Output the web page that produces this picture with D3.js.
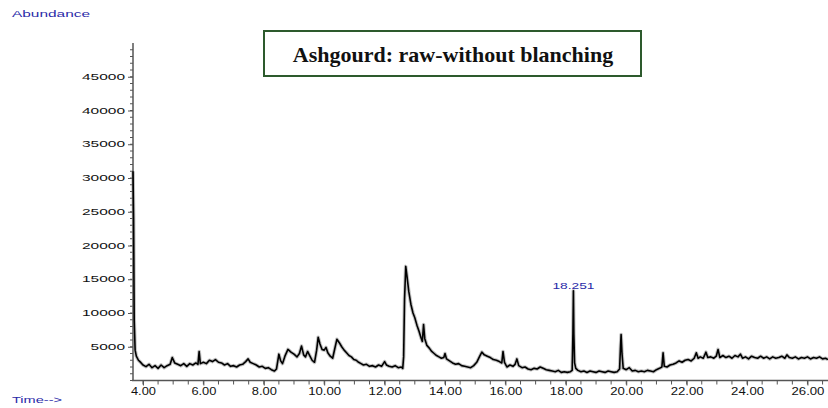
<!DOCTYPE html>
<html>
<head>
<meta charset="utf-8">
<script src="https://cdn.jsdelivr.net/npm/d3@7"></script>
<style>
  body { margin: 0; background: #fff; }
  svg { display: block; }
</style>
</head>
<body>
<svg id="svg" width="828" height="408"></svg>
<script>
// retention time (min) and abundance
var retentionTime = [
  3.67, 3.69, 3.71, 3.74, 3.78, 3.85, 3.9, 4.0, 4.1, 4.2, 4.3, 4.4, 4.5, 4.6, 4.7, 4.8, 4.9, 4.97,
  5.05, 5.15, 5.25, 5.35, 5.45, 5.55, 5.65, 5.75, 5.82, 5.86, 5.9, 6.0, 6.1, 6.2, 6.3, 6.4, 6.5,
  6.6, 6.7, 6.8, 6.9, 7.0, 7.1, 7.2, 7.3, 7.4, 7.48, 7.55, 7.65, 7.75, 7.85, 7.95, 8.05, 8.15,
  8.25, 8.35, 8.42, 8.5, 8.56, 8.62, 8.7, 8.8, 8.9, 9.0, 9.1, 9.18, 9.25, 9.32, 9.38, 9.45, 9.52,
  9.6, 9.68, 9.75, 9.8, 9.86, 9.93, 10.0, 10.06, 10.12, 10.2, 10.28, 10.35, 10.42, 10.5, 10.58,
  10.66, 10.74, 10.82, 10.9, 10.98, 11.06, 11.14, 11.22, 11.3, 11.4, 11.5, 11.6, 11.7, 11.8, 11.9,
  12.0, 12.06, 12.15, 12.25, 12.35, 12.45, 12.55, 12.6, 12.63, 12.66, 12.7, 12.74, 12.8, 12.87,
  12.94, 13.0, 13.07, 13.14, 13.2, 13.25, 13.29, 13.33, 13.4, 13.48, 13.56, 13.64, 13.72, 13.8,
  13.88, 13.96, 14.0, 14.05, 14.15, 14.25, 14.35, 14.45, 14.55, 14.65, 14.75, 14.85, 14.95, 15.05,
  15.15, 15.22, 15.3, 15.4, 15.5, 15.6, 15.7, 15.8, 15.88, 15.92, 15.97, 16.05, 16.15, 16.25,
  16.32, 16.38, 16.44, 16.55, 16.65, 16.75, 16.85, 16.95, 17.05, 17.15, 17.25, 17.35, 17.45,
  17.55, 17.65, 17.75, 17.85, 17.95, 18.05, 18.15, 18.21, 18.235, 18.251, 18.265, 18.29, 18.33,
  18.4, 18.5, 18.6, 18.7, 18.8, 18.9, 19.0, 19.1, 19.2, 19.3, 19.4, 19.5, 19.6, 19.7, 19.78,
  19.81, 19.83, 19.86, 19.9, 20.0, 20.1, 20.2, 20.3, 20.4, 20.5, 20.6, 20.7, 20.8, 20.9, 21.0,
  21.1, 21.18, 21.22, 21.26, 21.35, 21.45, 21.55, 21.65, 21.75, 21.85, 21.95, 22.05, 22.15, 22.25,
  22.32, 22.38, 22.45, 22.55, 22.64, 22.7, 22.8, 22.9, 22.98, 23.04, 23.1, 23.2, 23.3, 23.4, 23.5,
  23.6, 23.7, 23.78, 23.85, 23.95, 24.05, 24.15, 24.25, 24.35, 24.45, 24.55, 24.65, 24.75, 24.85,
  24.95, 25.05, 25.15, 25.25, 25.32, 25.4, 25.5, 25.6, 25.7, 25.8, 25.9, 26.0, 26.1, 26.2, 26.3,
  26.4, 26.5, 26.6, 26.68
];
var abundance = [
  31000, 24000, 9000, 4500, 3600, 3000, 2800, 2300, 2050, 2400, 1900, 2200, 1800, 2300, 1900, 2200, 2400, 3400,
  2600, 2400, 2200, 2500, 2100, 2500, 2300, 2600, 2400, 4300, 2500, 2700, 2500, 3000, 2800, 3100, 2700,
  2600, 2300, 2500, 2100, 2200, 2000, 2300, 2400, 2800, 3200, 2700, 2500, 2300, 2000, 2100, 1800, 1900,
  1600, 1400, 1700, 3900, 2900, 2500, 3600, 4600, 4200, 3900, 3500, 4000, 5100, 3800, 3500, 4300, 3700,
  3000, 2700, 4500, 6400, 5400, 4600, 4500, 4900, 4100, 3600, 3300, 4700, 6100, 5600, 5000,
  4500, 4100, 3700, 3500, 3100, 3000, 2700, 2500, 2300, 2400, 2100, 2200, 2000, 2300, 2100,
  2800, 2300, 2100, 2000, 2200, 1900, 2000, 1800, 3500, 12000, 16900, 15500, 13200, 11300,
  10000, 9300, 8200, 7300, 6400, 5800, 8300, 6200, 5200, 4800, 4300, 4000, 3700, 3500,
  3300, 3400, 4000, 3200, 2900, 2600, 2400, 2500, 2200, 2100, 2000, 1900, 2200, 2700,
  3600, 4200, 3800, 3600, 3400, 3100, 3000, 2800, 2600, 4300, 2700, 2000, 2300, 2100,
  2400, 3200, 2200, 1900, 2000, 1700, 1600, 1800, 1700, 2000, 1800, 1600, 1500,
  1400, 1300, 1500, 1200, 1300, 1200, 1300, 1500, 7000, 13300, 7000, 2600, 1800,
  1500, 1300, 1400, 1200, 1400, 1300, 1200, 1400, 1300, 1200, 1400, 1300, 1200, 1300, 1700,
  5000, 6800, 4000, 1800, 1600, 1900, 1400, 1500, 1300, 1400, 1300, 1500, 1400, 1300, 1600,
  1800, 2000, 4100, 2100, 2000, 2300, 2400, 2600, 2900, 2700, 3000, 3100, 2900, 3300,
  4100, 3300, 3500, 3300, 4200, 3400, 3500, 3300, 3600, 4600, 3400, 3700, 3400, 3600, 3300,
  3700, 3500, 3900, 3300, 3500, 3200, 3600, 3400, 3300, 3600, 3300, 3500, 3200, 3500,
  3300, 3400, 3600, 3300, 3800, 3400, 3300, 3500, 3200, 3400, 3300, 3500, 3200, 3400, 3300,
  3500, 3200, 3300, 3100
];
var xTicks = [4, 6, 8, 10, 12, 14, 16, 18, 20, 22, 24, 26];
var yTicks = [5000, 10000, 15000, 20000, 25000, 30000, 35000, 40000, 45000];
var peakLabel = {time: 18.251, value: 13300, text: "18.251"};
var chartTitle = "Ashgourd: raw-without blanching";

var trace = retentionTime.map(function(t, i) { return {t: t, v: abundance[i]}; });

var svg = d3.select("#svg");
var blue = "#2a2aa8";
var axisColor = "#555";

var xScale = d3.scaleLinear().domain([3.67, 26.68]).range([133, 828]);
var yScale = d3.scaleLinear().domain([0, 50000]).range([380.5, 43]);

//minor ticks
var minorY = d3.range(0, 49001, 1000);
var minorX = d3.range(4, 26.6, 0.5);

//yAxis
var yAxis = svg.append("g")
    .attr("transform", "translate(133,0)")
    .call(d3.axisLeft(yScale).tickValues(yTicks).tickSize(5).tickPadding(3)
        .tickFormat(function(d) { return String(d); }));
yAxis.select(".domain").remove();
yAxis.selectAll("line").attr("stroke", axisColor);
yAxis.selectAll("text")
    .attr("font-family", "Liberation Sans, Arial, sans-serif")
    .attr("font-size", 8.5)
    .attr("fill", "#111")
    .attr("textLength", function(d) { return String(d).length * 8.6; })
    .attr("lengthAdjust", "spacingAndGlyphs");
yAxis.append("g").selectAll("line").data(minorY).enter().append("line")
    .attr("x1", -3).attr("x2", 0)
    .attr("y1", function(d) { return yScale(d); })
    .attr("y2", function(d) { return yScale(d); })
    .attr("stroke", axisColor);
yAxis.append("line").attr("x1", 0).attr("x2", 0).attr("y1", 43).attr("y2", 381)
    .attr("stroke", axisColor).attr("stroke-width", 1.5);

//xAxis
var xAxis = svg.append("g")
    .attr("transform", "translate(0,380.5)")
    .call(d3.axisBottom(xScale).tickValues(xTicks).tickSize(5).tickPadding(2)
        .tickFormat(d3.format(".2f")));
xAxis.select(".domain").remove();
xAxis.selectAll("line").attr("stroke", axisColor);
xAxis.selectAll("text")
    .attr("font-family", "Liberation Sans, Arial, sans-serif")
    .attr("font-size", 10)
    .attr("fill", "#111")
    .attr("textLength", function(d) { return (d3.format(".2f")(d).length - 1) * 8 + 1; })
    .attr("lengthAdjust", "spacingAndGlyphs");
xAxis.append("g").selectAll("line").data(minorX).enter().append("line")
    .attr("x1", function(d) { return xScale(d); })
    .attr("x2", function(d) { return xScale(d); })
    .attr("y1", 0).attr("y2", 4)
    .attr("stroke", axisColor);
xAxis.append("line").attr("x1", 132).attr("x2", 828).attr("y1", 0).attr("y2", 0)
    .attr("stroke", axisColor).attr("stroke-width", 1.5);

//trace
var line = d3.line()
    .x(function(d) { return xScale(d.t); })
    .y(function(d) { return yScale(d.v); });

svg.append("path").datum(trace)
    .attr("d", line)
    .attr("fill", "none")
    .attr("stroke", "#888")
    .attr("stroke-width", 3.6)
    .attr("stroke-opacity", 0.5)
    .attr("stroke-linejoin", "round");

svg.append("path").datum(trace)
    .attr("d", line)
    .attr("fill", "none")
    .attr("stroke", "#000")
    .attr("stroke-width", 1.6)
    .attr("stroke-linejoin", "round");

//peak label
svg.append("text")
    .attr("x", xScale(peakLabel.time))
    .attr("y", yScale(peakLabel.value) - 2)
    .attr("text-anchor", "middle")
    .attr("font-family", "Liberation Sans, Arial, sans-serif")
    .attr("font-size", 8.5)
    .attr("fill", blue)
    .attr("textLength", 42)
    .attr("lengthAdjust", "spacingAndGlyphs")
    .text(peakLabel.text);

//axis titles
svg.append("text")
    .attr("x", 12).attr("y", 17)
    .attr("font-family", "Liberation Sans, Arial, sans-serif")
    .attr("font-size", 8.5)
    .attr("fill", blue)
    .attr("textLength", 78)
    .attr("lengthAdjust", "spacingAndGlyphs")
    .text("Abundance");

svg.append("text")
    .attr("x", 12).attr("y", 403)
    .attr("font-family", "Liberation Sans, Arial, sans-serif")
    .attr("font-size", 8.5)
    .attr("fill", blue)
    .attr("textLength", 50)
    .attr("lengthAdjust", "spacingAndGlyphs")
    .text("Time-->");

//title box
svg.append("rect")
    .attr("x", 264).attr("y", 31).attr("width", 377).attr("height", 45)
    .attr("fill", "#fff")
    .attr("stroke", "#2d5a2d")
    .attr("stroke-width", 2);

svg.append("text")
    .attr("x", 453).attr("y", 62)
    .attr("text-anchor", "middle")
    .attr("font-family", "Liberation Serif, Times New Roman, serif")
    .attr("font-weight", "bold")
    .attr("font-size", 22)
    .attr("fill", "#111")
    .text(chartTitle);
</script>
</body>
</html>
